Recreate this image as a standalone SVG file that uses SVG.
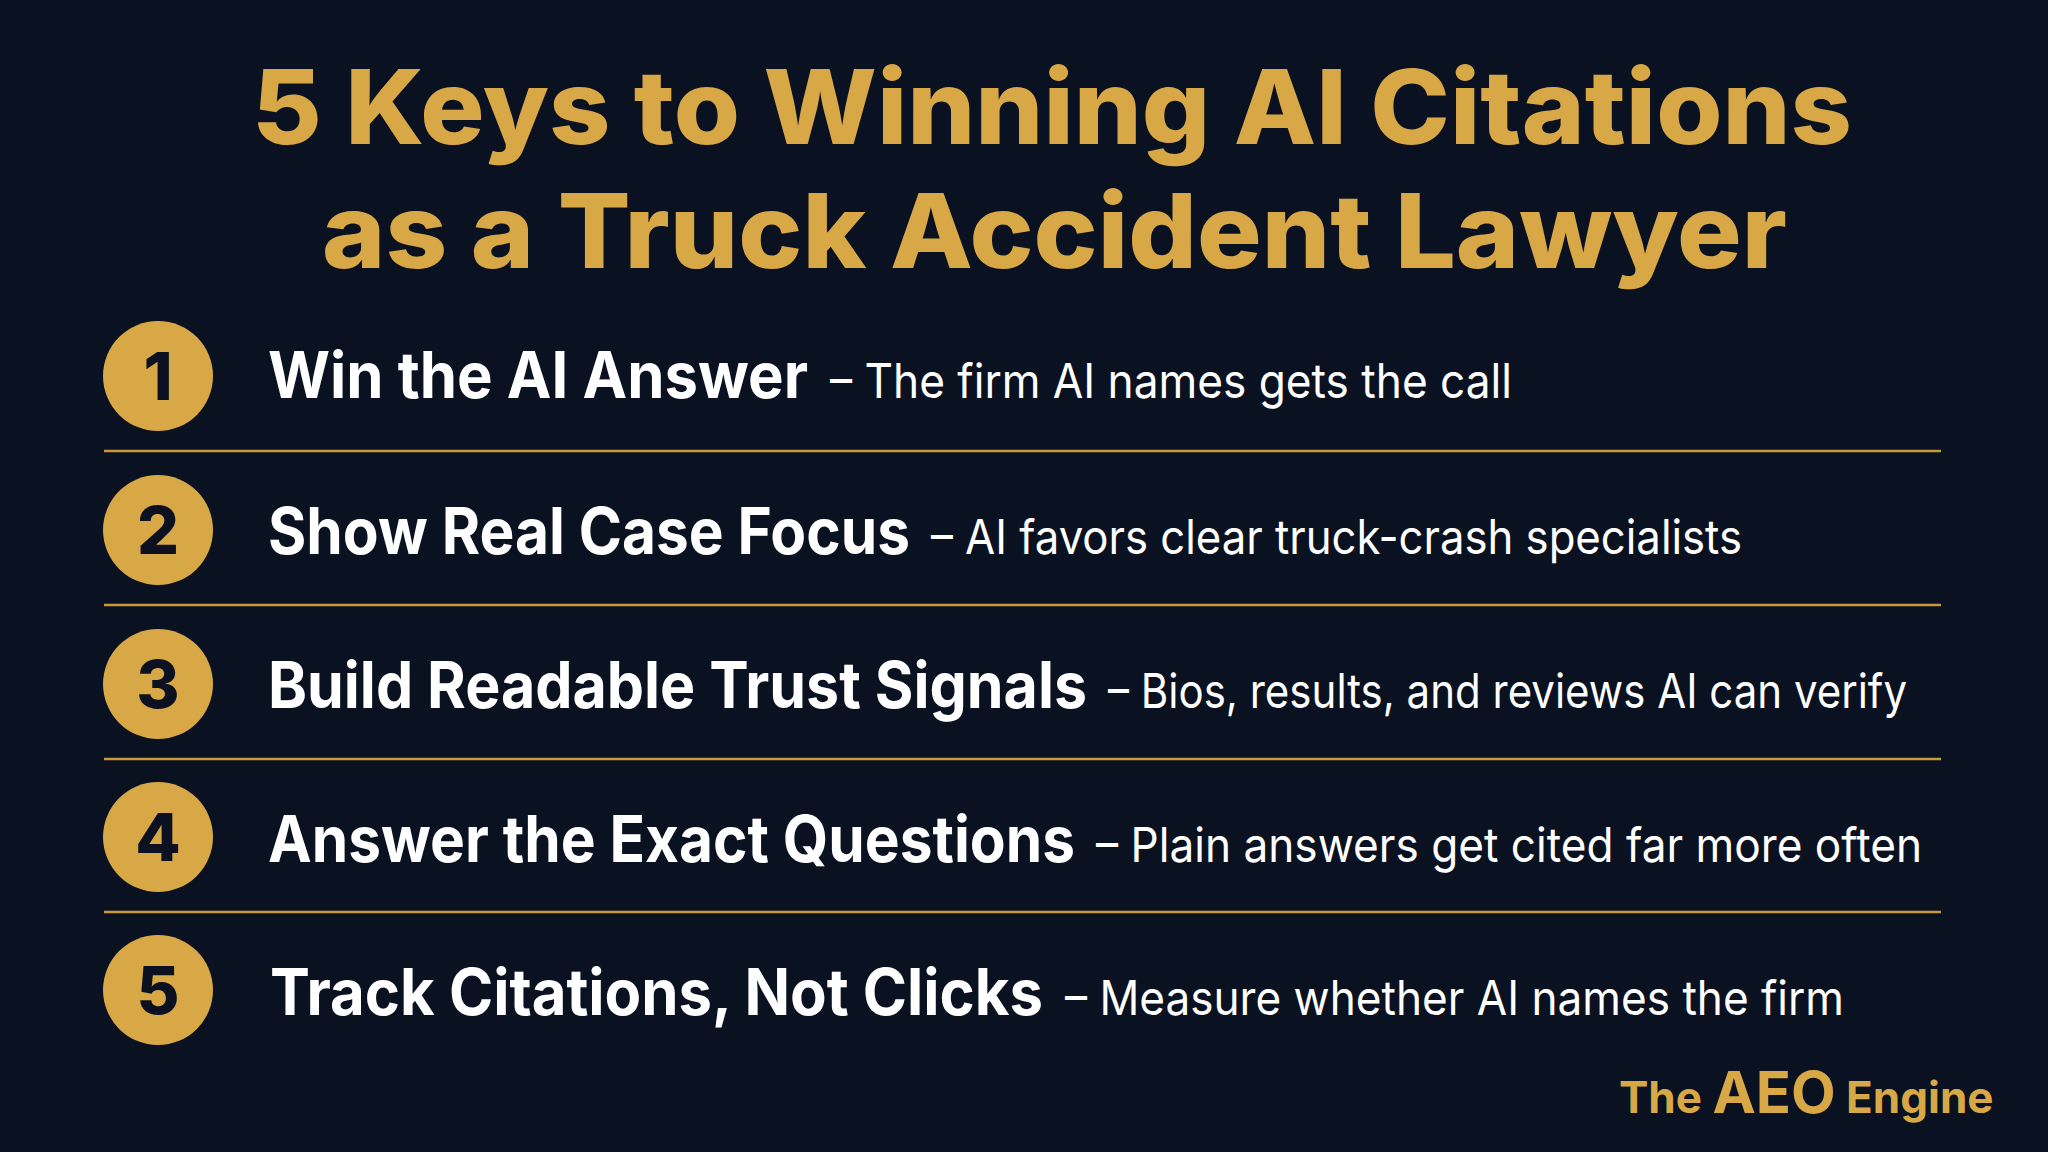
<svg xmlns="http://www.w3.org/2000/svg" width="2048" height="1152" viewBox="0 0 2048 1152">
<style>
.t{font-family:Inter,"Liberation Sans",sans-serif;font-weight:800;fill:#d8a746;font-size:103px}
.b{font-family:Inter,"Liberation Sans",sans-serif;font-weight:700;fill:#ffffff;font-size:64px}
.d{font-family:Inter,"Liberation Sans",sans-serif;font-weight:400;fill:#ffffff;font-size:48px}
.n{font-family:Inter,"Liberation Sans",sans-serif;font-weight:800;fill:#0b1120;font-size:66px;text-anchor:middle}
.c{fill:#d8a746}
.l{stroke:#c9993f;stroke-width:2.5}
</style>
<rect width="2048" height="1152" fill="#0a1120"/>
<g id="title">
<text class="t" x="252" y="144" textLength="1600" lengthAdjust="spacingAndGlyphs">5 Keys to Winning AI Citations</text>
<text class="t" x="322" y="268" textLength="1465" lengthAdjust="spacingAndGlyphs">as a Truck Accident Lawyer</text>
</g>
<g id="connectors">
<line class="l" x1="104" y1="451" x2="1941" y2="451"/>
<line class="l" x1="104" y1="605" x2="1941" y2="605"/>
<line class="l" x1="104" y1="759" x2="1941" y2="759"/>
<line class="l" x1="104" y1="912" x2="1941" y2="912"/>
</g>
<g id="item1">
<circle class="c" cx="158" cy="376" r="55"/><text class="n" x="158" y="400">1</text>
<text class="b" x="268" y="398" textLength="540" lengthAdjust="spacingAndGlyphs">Win the AI Answer</text>
<text class="d" x="830" y="398" textLength="682" lengthAdjust="spacingAndGlyphs">– The firm AI names gets the call</text>
</g>
<g id="item2">
<circle class="c" cx="158" cy="530" r="55"/><text class="n" x="158" y="554">2</text>
<text class="b" x="268" y="554" textLength="642" lengthAdjust="spacingAndGlyphs">Show Real Case Focus</text>
<text class="d" x="931" y="554" textLength="811" lengthAdjust="spacingAndGlyphs">– AI favors clear truck-crash specialists</text>
</g>
<g id="item3">
<circle class="c" cx="158" cy="684" r="55"/><text class="n" x="158" y="708">3</text>
<text class="b" x="268" y="708" textLength="819" lengthAdjust="spacingAndGlyphs">Build Readable Trust Signals</text>
<text class="d" x="1108" y="708" textLength="799" lengthAdjust="spacingAndGlyphs">– Bios, results, and reviews AI can verify</text>
</g>
<g id="item4">
<circle class="c" cx="158" cy="837" r="55"/><text class="n" x="158" y="861">4</text>
<text class="b" x="268" y="862" textLength="807" lengthAdjust="spacingAndGlyphs">Answer the Exact Questions</text>
<text class="d" x="1096" y="862" textLength="826" lengthAdjust="spacingAndGlyphs">– Plain answers get cited far more often</text>
</g>
<g id="item5">
<circle class="c" cx="158" cy="990" r="55"/><text class="n" x="158" y="1014">5</text>
<text class="b" x="270" y="1015" textLength="773" lengthAdjust="spacingAndGlyphs">Track Citations, Not Clicks</text>
<text class="d" x="1065" y="1015" textLength="779" lengthAdjust="spacingAndGlyphs">– Measure whether AI names the firm</text>
</g>
<g id="footer">
<text x="1619" y="1113" style="font-family:Inter,'Liberation Sans',sans-serif;font-weight:700;fill:#d8a746;font-size:44px">The <tspan style="font-size:58px">AEO</tspan> Engine</text>
</g>
</svg>
